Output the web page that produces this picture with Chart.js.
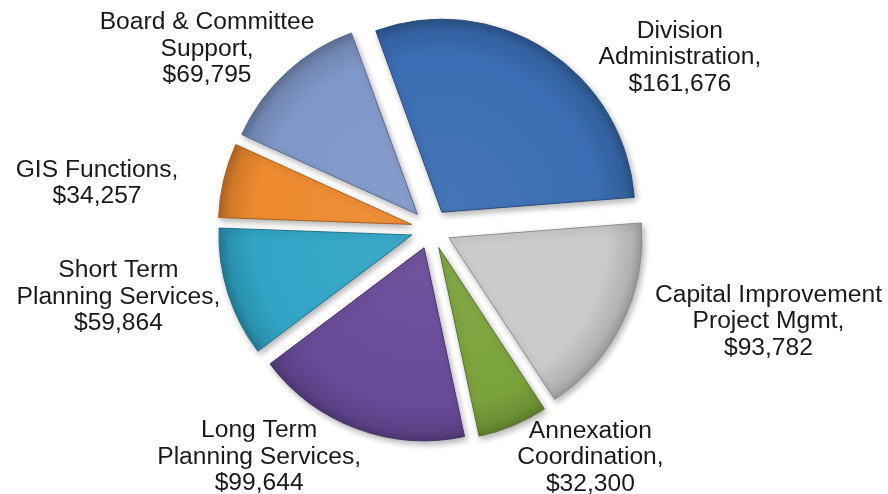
<!DOCTYPE html>
<html>
<head>
<meta charset="utf-8">
<script src="https://cdn.jsdelivr.net/npm/chart.js@4.4.0/dist/chart.umd.min.js"></script>
<style>
  html, body { margin: 0; background: #fff; }
  #grafico { display: block; }
</style>
</head>
<body>
<canvas id="grafico" width="888" height="494"></canvas>
<script>
// dados do grafico (sentido horario, a partir do topo)
const categorias = [
  ['Division', 'Administration'],
  ['Capital Improvement', 'Project Mgmt'],
  ['Annexation', 'Coordination'],
  ['Long Term', 'Planning Services'],
  ['Short Term', 'Planning Services'],
  ['GIS Functions'],
  ['Board & Committee', 'Support']
];
const valores = [161676, 93782, 32300, 99644, 59864, 34257, 69795];
const cores = ['#3a6db3', '#cacaca', '#7ba33c', '#684a98', '#30a5c6', '#ee8a2f', '#7f97c9'];

const raio = 193;
const explodir = 20;
const rotacao = -20;

// posicao dos rotulos: desvio de angulo (graus) a partir do meio da fatia e distancia do centro
const rotuloDesvio = [22.7, -10.8, -12.2, 16.5, 5.1, -5.5, -8.5];
const rotuloDistancia = [302, 350, 279, 286, 320, 337, 287];

function ajustarCor(hex, f) {
  const n = parseInt(hex.slice(1), 16);
  let r = (n >> 16) & 255, g = (n >> 8) & 255, b = n & 255;
  if (f >= 0) {
    r += (255 - r) * f; g += (255 - g) * f; b += (255 - b) * f;
  } else {
    r *= 1 + f; g *= 1 + f; b *= 1 + f;
  }
  return `rgb(${Math.round(r)}, ${Math.round(g)}, ${Math.round(b)})`;
}

function meioFatia(i) {
  const total = valores.reduce((s, v) => s + v, 0);
  let antes = 0;
  for (let k = 0; k < i; k++) antes += valores[k];
  return (rotacao - 90) * Math.PI / 180 + (antes + valores[i] / 2) / total * 2 * Math.PI;
}

function centroFatia(chart, i) {
  const a = chart.chartArea;
  const m = meioFatia(i);
  return {
    x: (a.left + a.right) / 2 + Math.cos(m) * explodir,
    y: (a.top + a.bottom) / 2 + Math.sin(m) * explodir
  };
}

const formatar = (v) => '$' + v.toLocaleString('en-US');

// separa as fatias do centro
const pluginExplodir = {
  id: 'explodir',
  afterDatasetUpdate(chart, args) {
    args.meta.data.forEach(arc => {
      const m = (arc.startAngle + arc.endAngle) / 2;
      arc.x += Math.cos(m) * explodir;
      arc.y += Math.sin(m) * explodir;
    });
  }
};

// sombra leve por baixo das fatias
const pluginSombra = {
  id: 'sombra',
  beforeDatasetsDraw(chart) {
    const ctx = chart.ctx;
    ctx.save();
    ctx.shadowColor = 'rgba(0, 0, 0, 0.3)';
    ctx.shadowBlur = 6;
    ctx.shadowOffsetX = 2;
    ctx.shadowOffsetY = 3;
  },
  afterDatasetsDraw(chart) {
    chart.ctx.restore();
  }
};

const pluginRotulos = {
  id: 'rotulos',
  afterDraw(chart) {
    const ctx = chart.ctx;
    const a = chart.chartArea;
    const cx = (a.left + a.right) / 2, cy = (a.top + a.bottom) / 2;
    const alturaLinha = 26.5;
    ctx.save();
    ctx.font = '23px "Liberation Sans", Arial, sans-serif';
    ctx.fillStyle = '#1a1a1a';
    ctx.textAlign = 'center';
    ctx.textBaseline = 'middle';
    chart.getDatasetMeta(0).data.forEach((arc, i) => {
      const m = (arc.startAngle + arc.endAngle) / 2 + rotuloDesvio[i] * Math.PI / 180;
      const x = cx + Math.cos(m) * rotuloDistancia[i];
      const y = cy + Math.sin(m) * rotuloDistancia[i];
      const linhas = categorias[i].slice();
      linhas[linhas.length - 1] += ',';
      linhas.push(formatar(valores[i]));
      const y0 = y - (linhas.length - 1) * alturaLinha / 2;
      linhas.forEach((t, k) => {
        ctx.save();
        ctx.translate(x, y0 + k * alturaLinha);
        ctx.scale(1.07, 1);
        ctx.fillText(t, 0, 0);
        ctx.restore();
      });
    });
    ctx.restore();
  }
};

const config = {
  type: 'pie',
  data: {
    labels: categorias,
    datasets: [{
      data: valores,
      backgroundColor: (c) => {
        const cor = cores[c.dataIndex];
        if (!c.chart.chartArea) return cor;
        const p = centroFatia(c.chart, c.dataIndex);
        const g = c.chart.ctx.createRadialGradient(p.x, p.y, 0, p.x, p.y, raio);
        g.addColorStop(0, ajustarCor(cor, 0.06));
        g.addColorStop(0.82, cor);
        g.addColorStop(0.95, ajustarCor(cor, -0.12));
        g.addColorStop(1, ajustarCor(cor, -0.25));
        return g;
      },
      borderColor: cores.map(c => ajustarCor(c, -0.3)),
      borderWidth: 1
    }]
  },
  options: {
    responsive: false,
    animation: false,
    events: [],
    rotation: rotacao,
    radius: raio,
    layout: { padding: { left: 0, right: 26, top: 0, bottom: 36 } },
    plugins: {
      legend: { display: false },
      tooltip: { enabled: false }
    }
  },
  plugins: [pluginExplodir, pluginSombra, pluginRotulos]
};

const meuGrafico = new Chart(document.getElementById('grafico'), config);
</script>
</body>
</html>
